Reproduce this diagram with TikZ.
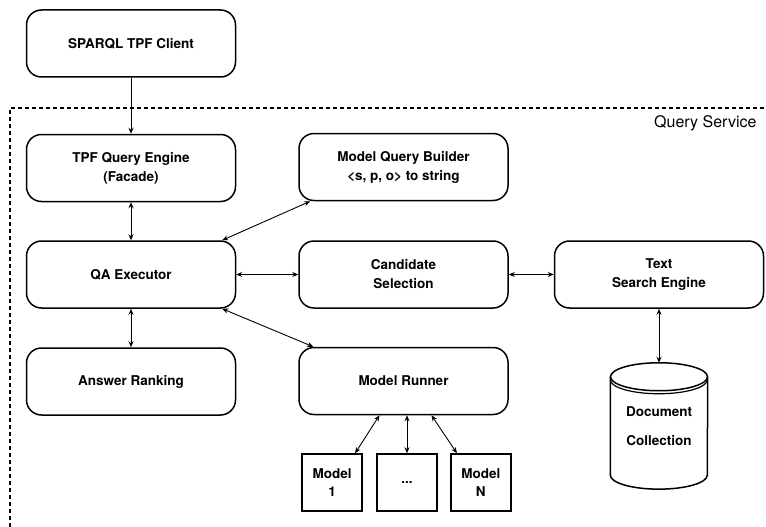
\documentclass[tikz,border=0pt]{standalone}
\usepackage{fontspec}
\setmainfont{TeX Gyre Heros}
\usetikzlibrary{positioning,arrows.meta}

\begin{document}
\begin{tikzpicture}
      [ block/.style={draw, line width=1.5pt, rounded corners=15pt,
                      minimum width=209pt, minimum height=67pt, align=center,
                      font=\bfseries\fontsize{13.5}{19}\selectfont},
        model/.style={draw, line width=1.8pt, minimum width=60pt,
                      minimum height=57pt, align=center,
                      font=\bfseries\fontsize{13.5}{18}\selectfont},
        link/.style={line width=0.9pt,
                     {Stealth[length=6pt,width=5pt]}-{Stealth[length=6pt,width=5pt]}},
        flow/.style={line width=0.9pt, -{Stealth[length=6pt,width=5pt]}},
        serviceframe/.style={line width=1.5pt, dash pattern=on 4pt off 3pt}
      ]
      \useasboundingbox (0,0) rectangle (766pt,-527pt);

      % query service frame
      \draw[serviceframe] (10pt,-527pt) -- (10pt,-108pt) -- (766pt,-108pt);
      \node[anchor=base east, font=\fontsize{16}{19}\selectfont]
            (service) at (760pt,-128pt) {Query Service};

      \node[block] (client) at (131pt,-43.5pt)        {SPARQL TPF Client};
      \node[block] (tpf)    [below=56pt of client]     {TPF Query Engine\\(Facade)};
      \node[block] (qa)     [below=38pt of tpf]        {QA Executor};
      \node[block] (rank)   [below=38.5pt of qa]       {Answer Ranking};
      \node[block] (cand)   [right=62pt of qa]         {Candidate\\Selection};
      \node[block] (mqb)    [above=39pt of cand]       {Model Query Builder\\<s, p, o> to string};
      \node[block] (runner) [below=38pt of cand]       {Model Runner};
      \node[block] (text)   [right=45pt of cand]       {Text\\Search Engine};

      \node[model] (dots)   [below=38pt of runner, xshift=3.5pt] {...};
      \node[model] (m1)     [left=13pt of dots]        {Model\\1};
      \node[model] (mN)     [right=12pt of dots]       {Model\\N};

      % document collection (cylinder)
      \node[minimum width=97pt, minimum height=126pt, align=center,
            font=\bfseries\fontsize{13.5}{29}\selectfont]
            (doc) [below=54pt of text] {Document\\Collection};
      \draw[line width=1.5pt]
            ([yshift=-14pt]doc.north west) -- ([yshift=14pt]doc.south west)
            arc[start angle=180, end angle=360, x radius=48.5pt, y radius=14pt]
            -- ([yshift=-14pt]doc.north east);
      \draw[line width=1.5pt]
            ([yshift=-14pt]doc.north) ellipse [x radius=48.5pt, y radius=14pt];
      \draw[line width=1.2pt]
            ([yshift=-17pt]doc.north west)
            arc[start angle=180, end angle=360, x radius=48.5pt, y radius=14pt];

      \path[flow] (client) edge (tpf);
      \path[link] (tpf)    edge (qa)
                  (qa)     edge (rank)
                  (qa)     edge (cand)
                  (cand)   edge (text)
                  (text)   edge (doc)
                  ([xshift=-14pt]qa.north east) edge ([xshift=12pt]mqb.south west)
                  ([xshift=-14pt]qa.south east) edge ([xshift=15pt]runner.north west)
                  ([xshift=-24pt]runner.south)  edge ([xshift=-8pt]m1.north east)
                  (runner.south -| dots.north)  edge (dots.north)
                  ([xshift=28pt]runner.south)   edge ([xshift=7pt]mN.north west);
    \end{tikzpicture}
\end{document}
